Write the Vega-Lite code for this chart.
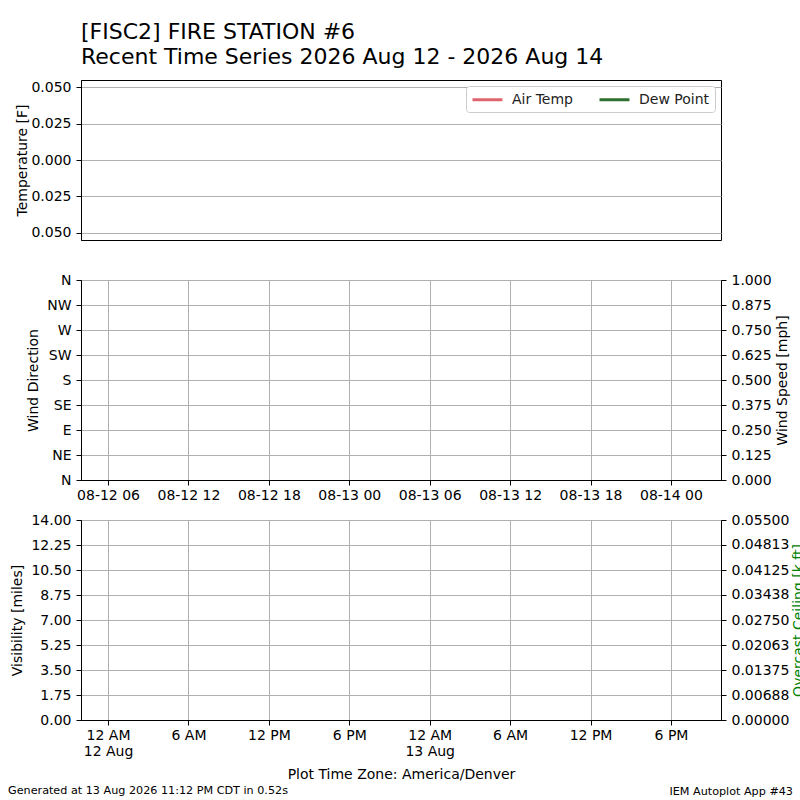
{
  "$schema": "https://vega.github.io/schema/vega-lite/v6.json",
  "padding": {"left": 7, "top": 20, "right": 0, "bottom": 0},
  "background": "white",
  "config": {
    "font": "DejaVu Sans",
    "view": {"stroke": "black", "strokeWidth": 1},
    "axis": {
      "labelFont": "DejaVu Sans", "labelFontSize": 14, "labelColor": "black",
      "titleFont": "DejaVu Sans", "titleFontSize": 14, "titleFontWeight": "normal", "titleColor": "black",
      "tickColor": "black", "tickSize": 5, "domainColor": "black", "labelPadding": 5,
      "gridColor": "#b0b0b0", "gridWidth": 1, "labelOverlap": false, "labelFlush": false, "labelBound": false
    },
    "title": {"font": "DejaVu Sans", "color": "black", "fontWeight": "normal"}
  },
  "title": {
    "text": ["[FISC2] FIRE STATION #6", "Recent Time Series 2026 Aug 12 - 2026 Aug 14"],
    "anchor": "start", "frame": "group", "fontSize": 22, "fontWeight": "normal",
    "lineHeight": 25, "offset": 11, "color": "black"
  },
  "datasets": {
    "obs": [
      {"valid": null, "series": "Air Temp", "temp": null, "drct": null, "sknt": null, "vsby": null, "ceil": null},
      {"valid": null, "series": "Dew Point", "temp": null, "drct": null, "sknt": null, "vsby": null, "ceil": null}
    ]
  },
  "spacing": 40,
  "bounds": "flush",
  "resolve": {"scale": {"x": "independent", "y": "independent"}},
  "vconcat": [
    {
      "width": 640, "height": 160,
      "data": {"name": "obs"},
      "mark": {"type": "line", "strokeWidth": 2},
      "encoding": {
        "x": {
          "field": "valid", "type": "temporal",
          "scale": {"type": "utc", "domain": [
            {"year": 2026, "month": 8, "date": 12, "hours": 3, "minutes": 59, "utc": true},
            {"year": 2026, "month": 8, "date": 14, "hours": 3, "minutes": 44, "utc": true}
          ]},
          "axis": null
        },
        "y": {
          "field": "temp", "type": "quantitative",
          "scale": {"domain": [-0.055, 0.055], "nice": false, "zero": false},
          "axis": {
            "title": "Temperature [F]", "values": [-0.05, -0.025, 0, 0.025, 0.05],
            "labelExpr": "format(abs(datum.value), '.3f')", "grid": true,
            "titleX": -59, "titleBaseline": "middle"
          }
        },
        "color": {
          "field": "series", "type": "nominal",
          "scale": {"domain": ["Air Temp", "Dew Point"], "range": ["#e0646e", "#2e6e2e"]},
          "legend": {
            "orient": "top-right", "direction": "horizontal", "title": null,
            "symbolType": "M-1,0H3.28", "symbolStrokeWidth": 3, "symbolSize": 196,
            "labelFontSize": 14, "labelColor": "#222222", "labelFont": "DejaVu Sans",
            "strokeColor": "#cccccc", "fillColor": "white", "padding": 5, "cornerRadius": 3,
            "offset": 6, "columnPadding": 20, "labelOffset": 24
          }
        }
      }
    },
    {
      "width": 640, "height": 200,
      "data": {"name": "obs"},
      "title": {
        "text": "IEM Autoplot App #43", "orient": "bottom", "anchor": "end", "frame": "group",
        "fontSize": 11.2, "fontWeight": "normal", "dx": 72, "dy": 284, "offset": 0
      },
      "encoding": {
        "x": {
          "field": "valid", "type": "temporal",
          "scale": {"type": "utc", "domain": [
            {"year": 2026, "month": 8, "date": 12, "hours": 3, "minutes": 59, "utc": true},
            {"year": 2026, "month": 8, "date": 14, "hours": 3, "minutes": 44, "utc": true}
          ]},
          "axis": {
            "title": null, "grid": true, "labelPadding": 3,
            "values": [
              {"year": 2026, "month": 8, "date": 12, "hours": 6, "utc": true},
              {"year": 2026, "month": 8, "date": 12, "hours": 12, "utc": true},
              {"year": 2026, "month": 8, "date": 12, "hours": 18, "utc": true},
              {"year": 2026, "month": 8, "date": 13, "hours": 0, "utc": true},
              {"year": 2026, "month": 8, "date": 13, "hours": 6, "utc": true},
              {"year": 2026, "month": 8, "date": 13, "hours": 12, "utc": true},
              {"year": 2026, "month": 8, "date": 13, "hours": 18, "utc": true},
              {"year": 2026, "month": 8, "date": 14, "hours": 0, "utc": true}
            ],
            "labelExpr": "utcFormat(datum.value, '%m-%d %H')"
          }
        }
      },
      "layer": [
        {
          "mark": {"type": "line"},
          "encoding": {
            "y": {
              "field": "drct", "type": "quantitative",
              "scale": {"domain": [0, 360], "nice": false, "zero": false},
              "axis": {
                "title": "Wind Direction", "orient": "left", "grid": true,
                "values": [0, 45, 90, 135, 180, 225, 270, 315, 360],
                "labelExpr": "['N','NE','E','SE','S','SW','W','NW','N'][round(datum.value / 45)]",
                "titleX": -48, "titleBaseline": "middle"
              }
            }
          }
        },
        {
          "mark": {"type": "line"},
          "encoding": {
            "y": {
              "field": "sknt", "type": "quantitative",
              "scale": {"domain": [0, 1], "nice": false, "zero": false},
              "axis": {
                "title": "Wind Speed [mph]", "orient": "right", "grid": false,
                "values": [0, 0.125, 0.25, 0.375, 0.5, 0.625, 0.75, 0.875, 1],
                "format": ".3f", "titleX": 61, "titleBaseline": "middle", "titleAngle": 270
              }
            }
          }
        }
      ],
      "resolve": {"scale": {"y": "independent"}}
    },
    {
      "width": 640, "height": 200,
      "data": {"name": "obs"},
      "title": {
        "text": "Generated at 13 Aug 2026 11:12 PM CDT in 0.52s", "orient": "bottom", "anchor": "start",
        "frame": "group", "fontSize": 11.2, "fontWeight": "normal", "dx": -73, "offset": 4
      },
      "encoding": {
        "x": {
          "field": "valid", "type": "temporal",
          "scale": {"type": "utc", "domain": [
            {"year": 2026, "month": 8, "date": 12, "hours": 3, "minutes": 59, "utc": true},
            {"year": 2026, "month": 8, "date": 14, "hours": 3, "minutes": 44, "utc": true}
          ]},
          "axis": {
            "title": "Plot Time Zone: America/Denver", "grid": true, "labelPadding": 3, "labelLineHeight": 16,
            "titleY": 54, "titleBaseline": "middle",
            "values": [
              {"year": 2026, "month": 8, "date": 12, "hours": 6, "utc": true},
              {"year": 2026, "month": 8, "date": 12, "hours": 12, "utc": true},
              {"year": 2026, "month": 8, "date": 12, "hours": 18, "utc": true},
              {"year": 2026, "month": 8, "date": 13, "hours": 0, "utc": true},
              {"year": 2026, "month": 8, "date": 13, "hours": 6, "utc": true},
              {"year": 2026, "month": 8, "date": 13, "hours": 12, "utc": true},
              {"year": 2026, "month": 8, "date": 13, "hours": 18, "utc": true},
              {"year": 2026, "month": 8, "date": 14, "hours": 0, "utc": true}
            ],
            "labelExpr": "utchours(datum.value - 21600000) == 0 ? [utcFormat(datum.value - 21600000, '%-I %p'), utcFormat(datum.value - 21600000, '%-d %b')] : utcFormat(datum.value - 21600000, '%-I %p')"
          }
        }
      },
      "layer": [
        {
          "mark": {"type": "line"},
          "encoding": {
            "y": {
              "field": "vsby", "type": "quantitative",
              "scale": {"domain": [0, 14], "nice": false, "zero": false},
              "axis": {
                "title": "Visibility [miles]", "orient": "left", "grid": true,
                "values": [0, 1.75, 3.5, 5.25, 7, 8.75, 10.5, 12.25, 14],
                "format": ".2f", "titleX": -64, "titleBaseline": "middle"
              }
            }
          }
        },
        {
          "mark": {"type": "line"},
          "encoding": {
            "y": {
              "field": "ceil", "type": "quantitative",
              "scale": {"domain": [0, 0.055], "nice": false, "zero": false},
              "axis": {
                "title": "Overcast Ceiling [k ft]", "orient": "right", "grid": false, "titleColor": "#008000",
                "values": [0, 0.00687501, 0.01375, 0.02062501, 0.0275, 0.03437501, 0.04125, 0.04812501, 0.055],
                "format": ".5f", "titleX": 77, "titleBaseline": "middle", "titleAngle": 270
              }
            }
          }
        }
      ],
      "resolve": {"scale": {"y": "independent"}}
    }
  ]
}
